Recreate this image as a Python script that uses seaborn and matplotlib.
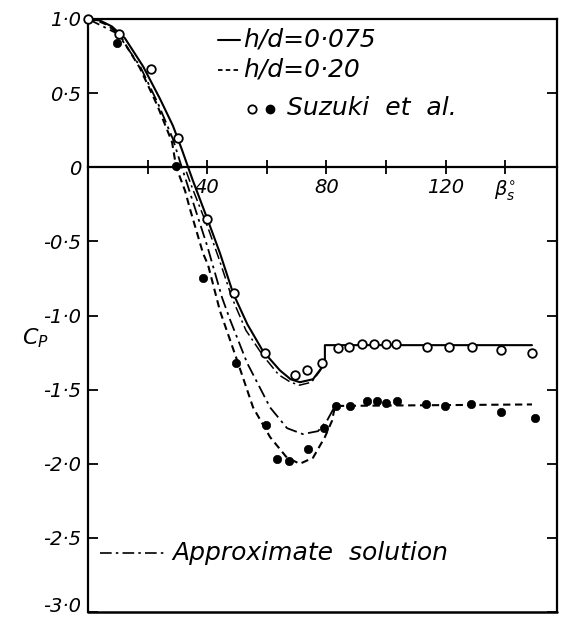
import matplotlib
matplotlib.use("Agg")
import matplotlib.pyplot as plt
import numpy as np
import pandas as pd
import seaborn as sns

sns.set_style("white")
plt.rcParams['font.family'] = ['DejaVu Sans']
plt.rcParams['mathtext.fontset'] = 'dejavusans'
for k in ['text.color', 'axes.labelcolor', 'xtick.color', 'ytick.color',
          'axes.edgecolor']:
    plt.rcParams[k] = 'black'

# ---- theory, h/d = 0.075 (solid) ----
solid_x = [0, 4, 8, 12.4, 18.5, 24.2, 28.5, 31.5, 33.6, 35.2, 39.9, 44.3, 48.7, 53.5,
           58.7, 64.4, 68.0, 71.1, 75.5, 78.5, 79.5, 79.5, 149]
solid_y = [1.0, 0.99, 0.95, 0.87, 0.68, 0.46, 0.28, 0.12, 0.0, -0.09, -0.34, -0.58,
           -0.85, -1.06, -1.24, -1.37, -1.43, -1.45, -1.43, -1.35, -1.30, -1.20, -1.20]

# ---- theory, h/d = 0.20 (dashed) ----
dash_x = [0, 3, 6.5, 10.7, 17.4, 23.2, 28.2, 29.6, 32.6, 34.2, 38.6, 40.3, 44.3,
          50.0, 55.4, 61.1, 66.8, 71.1, 75.5, 79.5, 81.9, 82.9, 149]
dash_y = [1.0, 0.99, 0.96, 0.89, 0.67, 0.42, 0.17, 0.0, -0.16, -0.28, -0.58, -0.66,
          -0.97, -1.30, -1.62, -1.82, -1.96, -2.00, -1.96, -1.82, -1.71, -1.61, -1.60]

# ---- approximate solution, h/d = 0.20 (dash-dot) ----
appr20_x = [0, 10, 17.5, 23.5, 28.5, 31.0, 35.0, 40.0, 45.0, 47.7, 53.4, 61.1,
            66.8, 72.1, 77.2, 80.2, 82.9]
appr20_y = [1.0, 0.90, 0.68, 0.43, 0.19, 0.03, -0.22, -0.53, -0.88, -1.03, -1.32,
            -1.62, -1.76, -1.80, -1.78, -1.71, -1.61]

# ---- approximate solution, h/d = 0.075 (dash-dot) ----
appr075_x = [33.0, 35.0, 40.3, 44.0, 48.3, 53.0, 58.7, 64.0, 68.0, 71.0, 75.0, 78.0, 79.5]
appr075_y = [-0.03, -0.14, -0.41, -0.62, -0.88, -1.10, -1.27, -1.40, -1.45, -1.47,
             -1.45, -1.37, -1.30]

# ---- Suzuki et al., h/d = 0.075 (open circles) ----
open_x = [0, 10.4, 21.1, 30.2, 39.9, 49.0, 59.4, 69.5, 73.4, 78.5, 83.9, 87.6, 91.9,
          96.0, 100.0, 103.4, 113.8, 121.1, 128.9, 138.6, 149.0]
open_y = [1.0, 0.90, 0.66, 0.20, -0.35, -0.85, -1.25, -1.40, -1.37, -1.32, -1.22,
          -1.21, -1.19, -1.19, -1.19, -1.19, -1.21, -1.21, -1.21, -1.23, -1.25]

# ---- Suzuki et al., h/d = 0.20 (filled circles) ----
fill_x = [9.7, 29.5, 38.7, 49.6, 59.7, 63.3, 67.5, 73.8, 79.3, 83.2, 87.9, 93.6,
          96.9, 100.0, 103.7, 113.4, 119.8, 128.5, 138.6, 150.0]
fill_y = [0.84, 0.01, -0.75, -1.32, -1.74, -1.97, -1.98, -1.90, -1.76, -1.61, -1.61,
          -1.58, -1.58, -1.59, -1.58, -1.60, -1.61, -1.60, -1.65, -1.69]

x_ticks = [20, 40, 60, 80, 100, 120, 140]
x_labels = ['', '40', '', '80', '', '120', r'$\beta_s^{\circ}$']
y_ticks = [1.0, 0.5, 0.0, -0.5, -1.0, -1.5, -2.0, -2.5, -3.0]
y_labels = ['1·0', '0·5', '0', '-0·5', '-1·0', '-1·5', '-2·0', '-2·5', '-3·0']

fig = plt.figure(figsize=(5.61, 6.20), dpi=100)
ax = fig.add_axes([88 / 561, 8 / 620, 469 / 561, 593 / 620])

lw = 1.5
sns.lineplot(x=solid_x, y=solid_y, ax=ax, color='black', lw=lw, sort=False,
             estimator=None)
sns.lineplot(x=dash_x, y=dash_y, ax=ax, color='black', lw=lw, sort=False,
             estimator=None, linestyle=(0, (3.5, 2.2)))
sns.lineplot(x=appr20_x, y=appr20_y, ax=ax, color='black', lw=1.3, sort=False,
             estimator=None, linestyle=(0, (7, 2.5, 1.5, 2.5)))
sns.lineplot(x=appr075_x, y=appr075_y, ax=ax, color='black', lw=1.1, sort=False,
             estimator=None, linestyle=(0, (7, 2.5, 1.5, 2.5)))

sns.scatterplot(x=open_x, y=open_y, ax=ax, marker='o', s=38, facecolor='white',
                edgecolor='black', linewidth=1.3, zorder=5, clip_on=False)
sns.scatterplot(x=fill_x, y=fill_y, ax=ax, marker='o', s=36, color='black',
                edgecolor='black', linewidth=0.5, zorder=5)

ax.set_xlim(0, 157.4)
ax.set_ylim(-3.0, 1.0)

# axes frame: x-axis through Cp = 0
ax.spines['bottom'].set_position(('data', 0))
for s in ['left', 'right', 'top', 'bottom']:
    ax.spines[s].set_visible(True)
    ax.spines[s].set_color('black')
    ax.spines[s].set_linewidth(1.6)
ax.axhline(-3.0, color='black', lw=1.8, clip_on=False)

ax.set_xticks(x_ticks)
ax.set_xticklabels(x_labels, fontsize=14, fontstyle='italic')
ax.set_yticks(y_ticks)
ax.set_yticklabels(y_labels, fontsize=14, fontstyle='italic')
ax.get_yticklabels()[-1].set_verticalalignment('baseline')
ax.tick_params(axis='x', direction='inout', length=10, width=1.3, pad=3,
               bottom=True, top=False)
ax.tick_params(axis='y', direction='in', length=7, width=1.3, pad=5,
               left=True, right=True)

ax.set_xlabel('')
ax.set_ylabel(r'$C_P$', fontsize=16, rotation=0)
ax.yaxis.set_label_coords(-0.113, 0.442)

# legend drawn in axes coordinates
T = ax.transAxes
txt = dict(fontsize=18, fontstyle='italic', va='center', ha='left', transform=T)
ax.plot([0.277, 0.324], [0.965, 0.965], color='black', lw=1.5, transform=T)
ax.text(0.330, 0.966, 'h/d=0·075', **txt)
ax.plot([0.277, 0.324], [0.914, 0.914], color='black', lw=1.3,
        linestyle=(0, (2.5, 1.8)), transform=T)
ax.text(0.330, 0.915, 'h/d=0·20', **txt)
ax.plot([0.350], [0.849], marker='o', ms=6, mfc='white', mec='black', mew=1.3,
        transform=T)
ax.plot([0.388], [0.849], marker='o', ms=6, mfc='black', mec='black', transform=T)
ax.text(0.424, 0.850, 'Suzuki  et  al.', **txt)
ax.plot([0.026, 0.164], [0.0995, 0.0995], color='black', lw=1.2,
        linestyle=(0, (7, 2.5, 1.5, 2.5)), transform=T)
ax.text(0.179, 0.0995, 'Approximate  solution', **txt)

fig.savefig('out.png', dpi=100)
